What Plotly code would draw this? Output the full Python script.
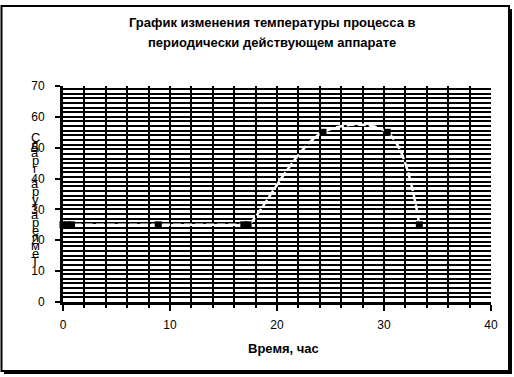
import plotly.graph_objects as go

# Data
time_h = [0, 0.4, 0.8, 8.9, 16.9, 17.3, 24.3, 30.3, 33.3]
temp_c = [25, 25, 25, 25, 25, 25, 55, 55, 25]
x_ticks = [0, 10, 20, 30, 40]
y_ticks = [0, 10, 20, 30, 40, 50, 60, 70]
title_lines = ["График изменения температуры процесса в", "периодически действующем аппарате"]
x_title = "Время, час"
y_title = "Температура, град С"

W, H = 514, 377
L, R, T, B = 63, 23, 86, 75
PW, PH = W - L - R, H - T - B
FONT = "Liberation Sans, Arial, sans-serif"

def px_x(px):
    return (px - L) / PW

def px_y(py):
    return (H - B - py) / PH

fig = go.Figure()
fig.add_trace(go.Scatter(
    x=time_h, y=temp_c, mode="lines+markers",
    line=dict(color="white", width=2.5, dash="8px,3px", shape="spline", smoothing=1),
    marker=dict(symbol="square", size=7, color="black", line=dict(width=0)),
    cliponaxis=False, showlegend=False,
))

annotations = []
for i, t in enumerate(title_lines):
    annotations.append(dict(text=f"<b>{t}</b>", x=px_x(272), y=px_y(23 + 20 * i), xref="paper", yref="paper",
                            showarrow=False, font=dict(family=FONT, size=13, color="black"),
                            xanchor="center", yanchor="middle"))
annotations.append(dict(text=f"<b>{x_title}</b>", x=px_x(283), y=px_y(348), xref="paper", yref="paper",
                        showarrow=False, font=dict(family=FONT, size=13, color="black"),
                        xanchor="center", yanchor="middle"))
chars = [c for c in y_title if c != " "]
n = len(chars)
top, bot = 137, 261
for i, c in enumerate(chars):
    py = bot - (bot - top) * i / (n - 1)
    annotations.append(dict(text=c, x=px_x(35), y=px_y(py), xref="paper", yref="paper",
                            showarrow=False, font=dict(family=FONT, size=13, color="black"),
                            xanchor="center", yanchor="middle"))

shapes = [
    dict(type="rect", xref="paper", yref="paper", x0=px_x(1.5), x1=px_x(509), y0=px_y(371), y1=px_y(6),
         line=dict(color="black", width=2), layer="below"),
    dict(type="line", xref="paper", yref="paper", x0=px_x(510.5), x1=px_x(510.5), y0=px_y(373.5), y1=px_y(9),
         line=dict(color="black", width=3)),
    dict(type="line", xref="paper", yref="paper", x0=px_x(4), x1=px_x(512), y0=px_y(372.5), y1=px_y(372.5),
         line=dict(color="black", width=3)),
]

fig.update_layout(
    width=W, height=H, margin=dict(l=L, r=R, t=T, b=B),
    paper_bgcolor="white", plot_bgcolor="white",
    annotations=annotations, shapes=shapes,
    font=dict(family=FONT, size=12, color="black"),
)
fig.update_xaxes(
    range=[0, 40], tickvals=x_ticks, ticks="outside", ticklen=6, tickwidth=2, tickcolor="black",
    showline=True, linecolor="black", linewidth=3, zeroline=False,
    showgrid=True, gridcolor="black", gridwidth=2,
    minor=dict(dtick=2, tick0=0, ticks="outside", ticklen=3, tickwidth=1.5, tickcolor="black",
               showgrid=True, gridcolor="black", gridwidth=2),
    tickfont=dict(family=FONT, size=12, color="black"), ticklabelstandoff=4,
)
fig.update_yaxes(
    range=[0, 70], tickvals=y_ticks, ticks="outside", ticklen=5, tickwidth=2, tickcolor="black",
    showline=True, linecolor="black", linewidth=3, zeroline=False,
    showgrid=False,
    minor=dict(dtick=1.5, tick0=0, ticks="", showgrid=True, gridcolor="black", gridwidth=2),
    tickfont=dict(family=FONT, size=12, color="black"), ticklabelstandoff=8,
)
fig.write_html(
    "out.html",
    config={"displayModeBar": False},
    post_script="document.body.style.margin='0';document.body.style.overflow='hidden';",
)
